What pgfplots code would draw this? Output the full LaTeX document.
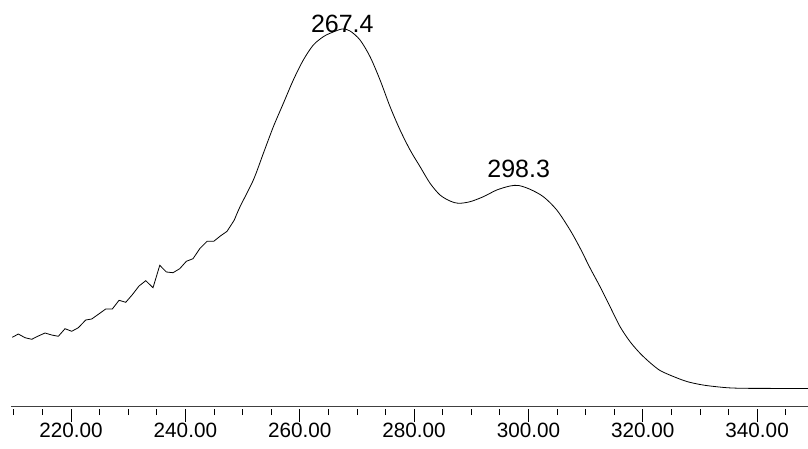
\documentclass[border=0pt]{standalone}
\usepackage{fontspec}
\setmainfont{Liberation Sans}
\usepackage{pgfplots}
\pgfplotsset{compat=1.18}
\begin{document}
\begin{tikzpicture}
\begin{axis}[
  scale only axis,
  width=797pt, height=406pt,
  xmin=209.5, xmax=348.9,
  ymin=0, ymax=406,
  axis x line*=bottom,
  axis y line=none,
  x axis line style={black!75, line width=1pt},
  xtick={220,240,...,340},
  minor xtick={210,215,...,345},
  tick align=outside,
  major tick length=13pt,
  minor tick length=6pt,
  every tick/.style={black, line width=0.8pt, yshift=-3pt},
  /pgf/number format/assume math mode=true,
  xticklabel style={/pgf/number format/.cd, fixed, fixed zerofill, precision=2, /tikz/.cd,
    font=\fontsize{20.7}{24}\selectfont, yshift=-1pt},
  clip=false,
]
\addplot[black, line width=0.8pt, sharp plot] coordinates {
(209.73,68.7) (210.78,72) (211.95,68.3) (213.13,66.7) (214.28,70) (215.45,73)
(216.62,71) (217.78,69.7) (218.95,77.3) (220.12,74.7) (221.28,78.3) (222.57,86)
(223.62,87) (224.78,91.7) (226.07,97) (227.22,97) (228.40,105.7) (229.57,103.7)
(230.72,111.3) (231.89,120) (233.07,125.3) (234.34,118.3) (235.52,140.7) (236.67,134)
(237.84,133.3) (239.01,137.3) (240.17,144.7) (241.34,147.3) (242.51,157.3) (243.79,164.7)
(244.96,164.7) (246.12,170) (247.29,174.7) (248.56,186)
};
\addplot[black, line width=0.8pt, smooth, tension=0.5] coordinates {
(248.56,186) (249.56,199.3) (251.89,226) (253.64,252.7) (255.39,279.3) (257.14,302.7)
(258.88,326) (260.63,346) (262.38,361) (264.13,369.3) (265.30,372.7) (267.4,377)
(268.80,375) (270.55,366) (272.30,349.3) (274.05,326) (275.80,299.3) (277.55,276)
(279.30,256) (281.05,239.3) (282.80,222.7) (284.54,211) (286.29,205) (287.75,202.7)
(289.79,204.3) (292.12,209.3) (294.46,216) (296.79,220) (298.3,220.5) (300.29,216.7)
(302.61,209.3) (304.96,196) (307.28,176) (309.03,158) (310.78,138) (312.53,119.3)
(314.28,99.3) (316.03,79.3) (317.78,64.3) (319.53,52.7) (321.28,43.3) (323.03,35.5)
(325.35,29.5) (327.70,24.5) (330.02,21.5) (331.77,20) (334.69,18.3) (337.60,17.7)
(343,17.6) (348.9,17.6)
};
\node[font=\fontsize{25}{28}\selectfont, inner sep=0pt] at (axis cs:267.45,382) {267.4};
\node[font=\fontsize{25}{28}\selectfont, inner sep=0pt] at (axis cs:298.3,237.2) {298.3};
\end{axis}
\pgfresetboundingbox
\path[use as bounding box] (-11pt,-42pt) rectangle (797pt,406pt);
\end{tikzpicture}
\end{document}
